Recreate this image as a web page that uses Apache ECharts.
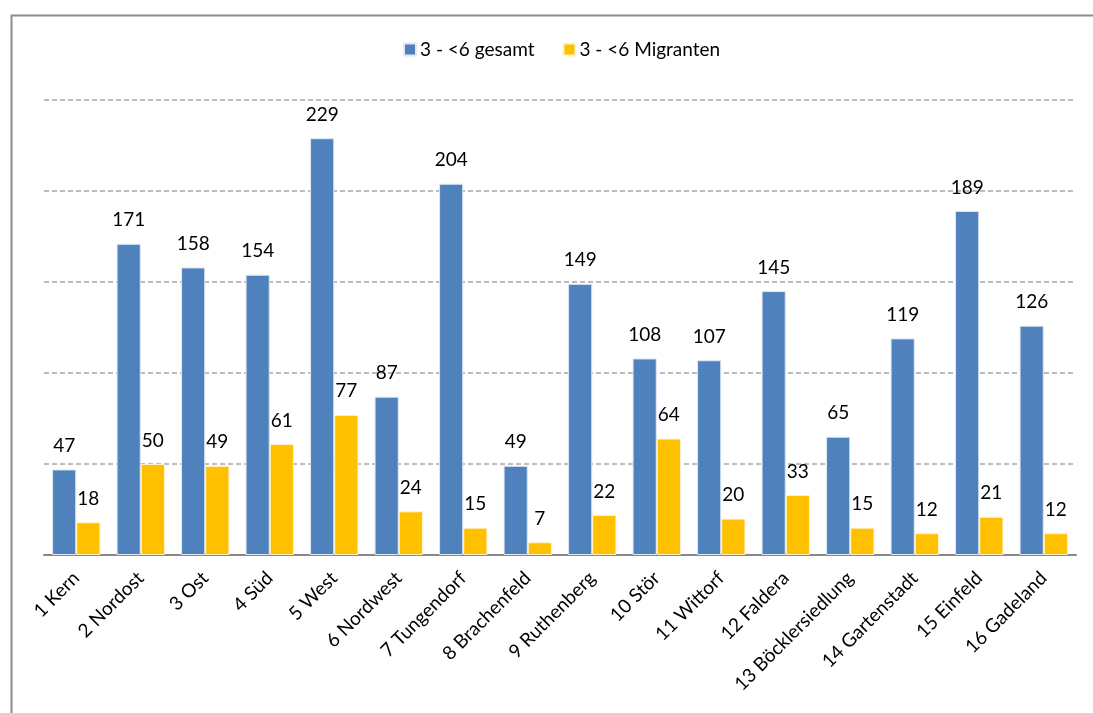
<!DOCTYPE html>
<html>
<head>
<meta charset="utf-8">
<script src="https://cdn.jsdelivr.net/npm/echarts@6/dist/echarts.min.js"></script>
<style>
  html, body { margin: 0; padding: 0; background: #fff; }
  #chart { width: 1093px; height: 713px; }
</style>
</head>
<body>
<div id="chart"></div>
<script>
// Stadtteile
const categories = [
  '1 Kern', '2 Nordost', '3 Ost', '4 Süd', '5 West', '6 Nordwest',
  '7 Tungendorf', '8 Brachenfeld', '9 Ruthenberg', '10 Stör', '11 Wittorf',
  '12 Faldera', '13 Böcklersiedlung', '14 Gartenstadt', '15 Einfeld', '16 Gadeland'
];
// Kinder 3 bis unter 6 Jahre
const gesamt = [47, 171, 158, 154, 229, 87, 204, 49, 149, 108, 107, 145, 65, 119, 189, 126];
const migranten = [18, 50, 49, 61, 77, 24, 15, 7, 22, 64, 20, 33, 15, 12, 21, 12];
const seriesNames = ['3 - <6 gesamt', '3 - <6 Migranten'];

const FONT = 'Lato, "Open Sans", sans-serif';
const chart = echarts.init(document.getElementById('chart'), null, { renderer: 'canvas' });

const labelStyle = {
  show: true,
  position: 'top',
  distance: 14,
  color: '#000',
  fontFamily: FONT,
  fontSize: 19
};

chart.setOption({
  animation: false,
  textStyle: { fontFamily: FONT },
  graphic: [{
    type: 'rect',
    left: 9, top: 13,
    shape: { width: 1200, height: 800 },
    style: { fill: 'none', stroke: '#8c8c8c', lineWidth: 2 },
    silent: true
  }],
  legend: {
    top: 35,
    left: 398,
    itemWidth: 12,
    itemHeight: 12,
    itemGap: 28,
    icon: 'rect',
    textStyle: { fontFamily: FONT, fontSize: 19, color: '#000', padding: [0, 0, 0, -1] },
    data: seriesNames
  },
  grid: { left: 44, right: 17, top: 100, bottom: 158, containLabel: false },
  xAxis: {
    type: 'category',
    data: categories,
    axisLine: { lineStyle: { color: '#888', width: 2 } },
    axisTick: { length: 6, lineStyle: { color: '#888', width: 2 } },
    axisLabel: {
      rotate: 45,
      interval: 0,
      margin: 20,
      color: '#000',
      fontFamily: FONT,
      fontSize: 19
    }
  },
  yAxis: {
    type: 'value',
    min: 0,
    max: 250,
    interval: 50,
    axisLabel: { show: false },
    axisLine: { show: false },
    axisTick: { show: false },
    splitLine: { lineStyle: { color: '#a6a6a6', type: [5, 3], width: 1.5 } }
  },
  series: [
    {
      name: seriesNames[0],
      type: 'bar',
      data: gesamt,
      barGap: '0%',
      barCategoryGap: '25%',
      itemStyle: { color: '#4f81bd', borderColor: '#dfe8f3', borderWidth: 1 },
      label: labelStyle
    },
    {
      name: seriesNames[1],
      type: 'bar',
      data: migranten,
      itemStyle: { color: '#ffc000', borderColor: '#fff3cc', borderWidth: 1 },
      label: labelStyle
    }
  ]
});
</script>
</body>
</html>
